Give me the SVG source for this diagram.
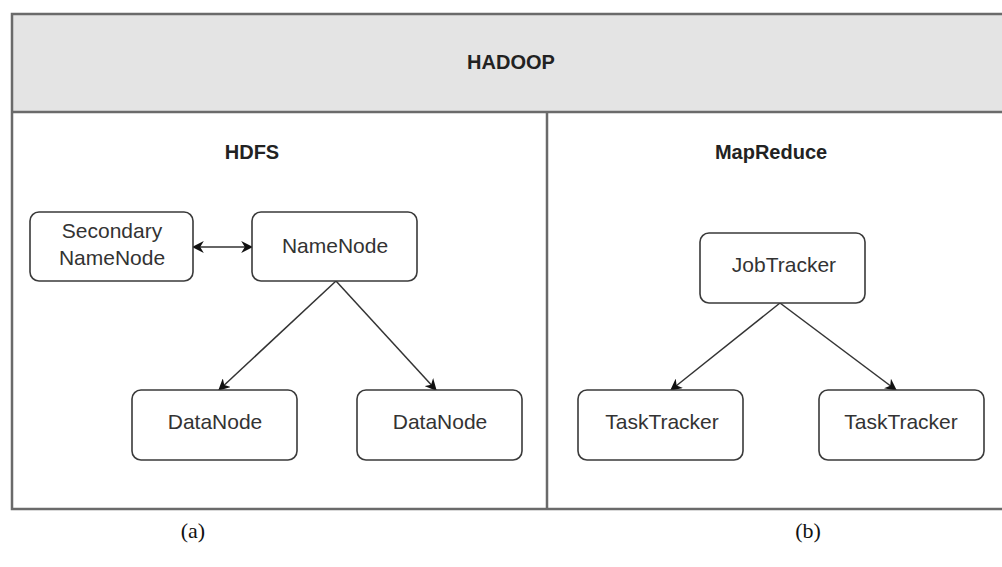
<svg xmlns="http://www.w3.org/2000/svg" width="1002" height="567" viewBox="0 0 1002 567">
<style>
.frame{fill:none;stroke:#6a6a6a;stroke-width:2.5}
.node rect{fill:#fff;stroke:#3a3a3a;stroke-width:1.6}
.lbl{font-family:"Liberation Sans",Arial,sans-serif;font-size:21px;fill:#333;text-anchor:middle}
.ttl{font-family:"Liberation Sans",Arial,sans-serif;font-size:20px;font-weight:bold;fill:#222;text-anchor:middle}
.cap{font-family:"Liberation Serif","Times New Roman",serif;font-size:22px;fill:#111;text-anchor:middle}
.edge{stroke:#333;stroke-width:1.5;fill:none}
</style>
<defs>
<marker id="arr" viewBox="0 0 10 10" refX="9" refY="5" markerWidth="12" markerHeight="12" markerUnits="userSpaceOnUse" orient="auto-start-reverse">
<path d="M0,0 L10,5 L0,10 L3,5 z" fill="#111"/>
</marker>
</defs>
<rect width="1002" height="567" fill="#fff"/>
<g id="hadoop">
<rect x="12" y="14" width="1000" height="98" fill="#e4e4e4"/>
<rect class="frame" x="12" y="14" width="1000" height="495"/>
<line class="frame" x1="12" y1="112" x2="1002" y2="112"/>
<line class="frame" x1="547" y1="112" x2="547" y2="509"/>
<text class="ttl" x="511" y="69">HADOOP</text>
</g>
<g id="hdfs"><text class="ttl" x="252" y="159">HDFS</text></g>
<g id="mapreduce"><text class="ttl" x="771" y="159">MapReduce</text></g>
<g id="edges">
<line class="edge" x1="193" y1="247" x2="252" y2="247" marker-start="url(#arr)" marker-end="url(#arr)"/>
<line class="edge" x1="336" y1="281" x2="219" y2="390" marker-end="url(#arr)"/>
<line class="edge" x1="336" y1="281" x2="436" y2="390" marker-end="url(#arr)"/>
<line class="edge" x1="780" y1="303" x2="671" y2="390" marker-end="url(#arr)"/>
<line class="edge" x1="780" y1="303" x2="896" y2="390" marker-end="url(#arr)"/>
</g>
<g id="secondary" class="node"><rect x="30" y="212" width="163" height="69" rx="9"/><text class="lbl" x="112" y="238">Secondary</text><text class="lbl" x="112" y="265">NameNode</text></g>
<g id="namenode" class="node"><rect x="252" y="212" width="165" height="69" rx="9"/><text class="lbl" x="335" y="253">NameNode</text></g>
<g id="datanode1" class="node"><rect x="132" y="390" width="165" height="70" rx="9"/><text class="lbl" x="215" y="429">DataNode</text></g>
<g id="datanode2" class="node"><rect x="357" y="390" width="165" height="70" rx="9"/><text class="lbl" x="440" y="429">DataNode</text></g>
<g id="jobtracker" class="node"><rect x="700" y="233" width="165" height="70" rx="9"/><text class="lbl" x="784" y="272">JobTracker</text></g>
<g id="tasktracker1" class="node"><rect x="578" y="390" width="165" height="70" rx="9"/><text class="lbl" x="662" y="429">TaskTracker</text></g>
<g id="tasktracker2" class="node"><rect x="819" y="390" width="165" height="70" rx="9"/><text class="lbl" x="901" y="429">TaskTracker</text></g>
<g id="captions">
<text class="cap" x="193" y="538">(a)</text>
<text class="cap" x="808" y="538">(b)</text>
</g>
</svg>
